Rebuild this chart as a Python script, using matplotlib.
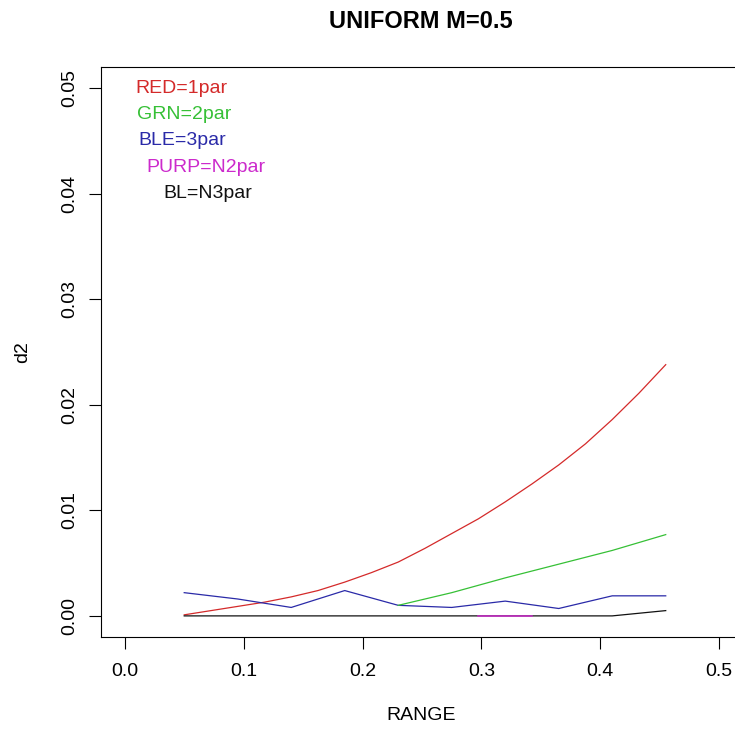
import matplotlib
matplotlib.use("Agg")
import matplotlib.pyplot as plt

plt.rcParams['font.family'] = ['Liberation Sans', 'DejaVu Sans']

# x grids
x_fine = [0.05, 0.0725, 0.095, 0.1175, 0.14, 0.1625, 0.185, 0.2075, 0.23, 0.2525,
          0.275, 0.2975, 0.32, 0.3425, 0.365, 0.3875, 0.41, 0.4325, 0.455]
x_grid = [0.05, 0.095, 0.14, 0.185, 0.23, 0.275, 0.32, 0.365, 0.41, 0.455]

red_1par = [0.0001, 0.0005, 0.0009, 0.0013, 0.0018, 0.0024, 0.0032, 0.0041, 0.0051, 0.0064,
            0.0078, 0.0092, 0.0108, 0.0125, 0.0143, 0.0163, 0.0186, 0.0211, 0.0238]
blue_3par = [0.0022, 0.0016, 0.0008, 0.0024, 0.0010, 0.0008, 0.0014, 0.0007, 0.0019, 0.0019]
black_n3par = [0.0, 0.0, 0.0, 0.0, 0.0, 0.0, 0.0, 0.0, 0.0, 0.0005]

x_green = [0.23, 0.275, 0.32, 0.365, 0.41, 0.455]
green_2par = [0.0010, 0.0022, 0.0036, 0.0049, 0.0062, 0.0077]

x_purp = [0.2975, 0.32, 0.3425]
purp_n2par = [0.0, 0.0, 0.0]

labels = ['RED=1par', 'GRN=2par', 'BLE=3par', 'PURP=N2par', 'BL=N3par']
label_x = [0.048, 0.05, 0.048, 0.068, 0.07]
label_y = [0.050, 0.0475, 0.045, 0.0425, 0.040]

c_red, c_green, c_blue, c_purp, c_black = '#d42a2a', '#36c036', '#2a2aa8', '#cc2acc', '#111111'

W, H = 735, 738
fig = plt.figure(figsize=(W / 100, H / 100), dpi=100)
# plot box runs off the right edge, as in the reference
ax = fig.add_axes([101 / W, 1 - 637 / H, 642 / W, (637 - 67) / H])

ax.plot(x_fine, red_1par, color=c_red, lw=0.9)
ax.plot(x_grid, blue_3par, color=c_blue, lw=0.9)
ax.plot(x_green, green_2par, color=c_green, lw=0.9)
ax.plot(x_grid, black_n3par, color=c_black, lw=0.9)
ax.plot(x_purp, purp_n2par, color=c_purp, lw=1.1)

for t, tx, ty, c in zip(labels, label_x, label_y, [c_red, c_green, c_blue, c_purp, c_black]):
    ax.text(tx, ty, t, color=c, ha='center', va='center', fontsize=14)

ax.set_xlim(-0.02, 0.52)
ax.set_ylim(-0.002, 0.052)
ax.set_xticks([0.0, 0.1, 0.2, 0.3, 0.4, 0.5])
ax.set_yticks([0.0, 0.01, 0.02, 0.03, 0.04, 0.05])
ax.set_xticklabels(['0.0', '0.1', '0.2', '0.3', '0.4', '0.5'])
ax.set_yticklabels(['0.00', '0.01', '0.02', '0.03', '0.04', '0.05'], rotation=90, va='center')
ax.tick_params(direction='out', length=8.5, width=0.8, labelsize=14)
ax.tick_params(axis='x', pad=10)
ax.tick_params(axis='y', pad=8)
for s in ax.spines.values():
    s.set_linewidth(0.8)

fig.text(421 / W, 1 - 21 / H, 'UNIFORM M=0.5', ha='center', va='center',
         fontsize=17, fontweight='bold')
fig.text(421 / W, 1 - 716 / H, 'RANGE', ha='center', va='center', fontsize=14)
fig.text(23 / W, 1 - 352 / H, 'd2', ha='center', va='center', rotation=90, fontsize=14)

fig.savefig('out.png', dpi=100)
